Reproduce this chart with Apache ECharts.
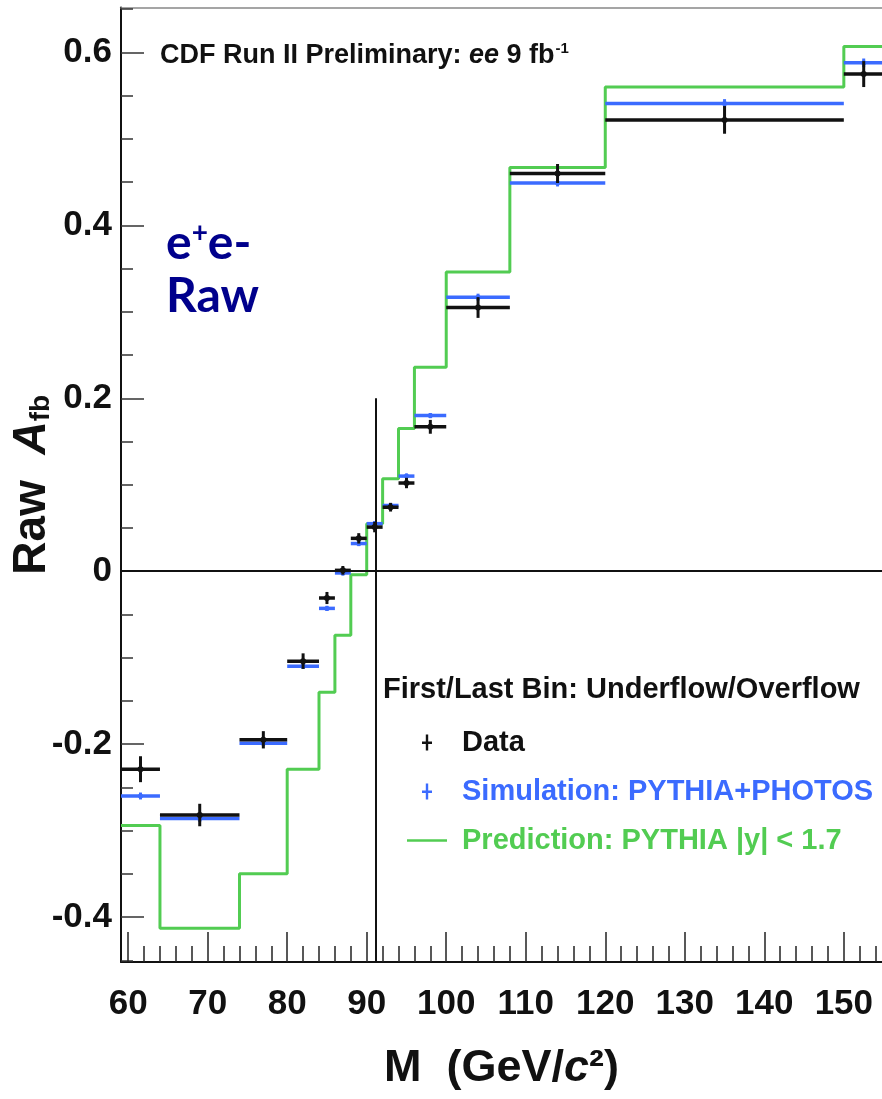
<!DOCTYPE html>
<html>
<head>
<meta charset="utf-8">
<script src="https://cdn.jsdelivr.net/npm/echarts@6/dist/echarts.min.js"></script>
<style>
  html, body { margin: 0; padding: 0; background: #fff; }
  #main { width: 882px; height: 1099px; }
</style>
</head>
<body>
<div id="main"></div>
<script>
// bin edges of the mass histogram (first/last bins = under/overflow, cut at the frame)
var binEdges = [59.1, 64, 74, 80, 84, 86, 88, 90, 92, 94, 96, 100, 108, 120, 150, 155];
var dataValues = [-0.229, -0.282, -0.195, -0.104, -0.031, 0.001, 0.038, 0.051, 0.074, 0.102, 0.167, 0.305, 0.460, 0.522, 0.575];
var dataErrors = [0.015, 0.013, 0.010, 0.009, 0.007, 0.005, 0.006, 0.006, 0.005, 0.006, 0.008, 0.012, 0.011, 0.016, 0.015];
var simValues = [-0.260, -0.286, -0.199, -0.110, -0.043, -0.002, 0.032, 0.055, 0.076, 0.110, 0.180, 0.317, 0.449, 0.541, 0.588];
var simErrors = [0.004, 0.004, 0.003, 0.003, 0.003, 0.003, 0.003, 0.003, 0.003, 0.003, 0.003, 0.004, 0.004, 0.005, 0.005];
var predValues = [-0.294, -0.413, -0.350, -0.229, -0.140, -0.074, -0.004, 0.055, 0.107, 0.165, 0.236, 0.346, 0.467, 0.560, 0.607];

var xMajor = [60, 70, 80, 90, 100, 110, 120, 130, 140, 150];
var xMinor = [62, 64, 66, 68, 72, 74, 76, 78, 82, 84, 86, 88, 92, 94, 96, 98, 102, 104, 106, 108,
              112, 114, 116, 118, 122, 124, 126, 128, 132, 134, 136, 138, 142, 144, 146, 148, 152, 154];
var yMajor = [-0.4, -0.2, 0, 0.2, 0.4, 0.6];
var yMinor = [-0.45, -0.35, -0.3, -0.25, -0.15, -0.1, -0.05, 0.05, 0.1, 0.15, 0.25, 0.3, 0.35, 0.45, 0.5, 0.55, 0.65];
var zMass = 91.19;

var BLACK = '#111';
var BLUE = '#3b6bff';
var GREEN = '#52cc52';
var SANS = "'Liberation Sans', Arial, sans-serif";

function binRows(values, errors) {
    return values.map(function (v, i) {
        return [binEdges[i], binEdges[i + 1], v, errors[i]];
    });
}

var stepData = predValues.map(function (v, i) { return [binEdges[i], v]; });
stepData.push([binEdges[binEdges.length - 1], predValues[predValues.length - 1]]);

function errRenderer(color, hWidth, vWidth, dot) {
    return function (params, api) {
        var lo = api.value(0), hi = api.value(1), v = api.value(2), e = api.value(3);
        var mid = (lo + hi) / 2;
        var a = api.coord([lo, v]), b = api.coord([hi, v]);
        var t = api.coord([mid, v + e]), d = api.coord([mid, v - e]);
        var c = api.coord([mid, v]);
        return {
            type: 'group',
            children: [
                { type: 'line', shape: { x1: a[0], y1: a[1], x2: b[0], y2: b[1] }, style: { stroke: color, lineWidth: hWidth } },
                { type: 'line', shape: { x1: t[0], y1: t[1], x2: d[0], y2: d[1] }, style: { stroke: color, lineWidth: vWidth } },
                { type: 'circle', shape: { cx: c[0], cy: c[1], r: dot }, style: { fill: color } }
            ]
        };
    };
}

var crossIcon = 'path://M0,7H10V9.5H0Z M3.8,0H6.2V16H3.8Z';
var lineIcon = 'path://M0,0H40V2.5H0Z';

var chart = echarts.init(document.getElementById('main'));

chart.setOption({
    animation: false,
    backgroundColor: '#fff',
    title: [{
        left: 155, top: 36,
        text: '{n|CDF Run II Preliminary: }{i|ee}{n| 9 fb}{s|-1}',
        textStyle: {
            rich: {
                n: { fontFamily: SANS, fontSize: 27, fontWeight: 'bold', color: '#111' },
                i: { fontFamily: SANS, fontSize: 27, fontWeight: 'bold', fontStyle: 'italic', color: '#111' },
                s: { fontFamily: SANS, fontSize: 15, fontWeight: 'bold', color: '#111', padding: [0, 0, 14, 1] }
            }
        }
    }, {
        left: 161, top: 212,
        text: '{a|e}{s|+}{a|e-}\n{a|Raw}',
        textStyle: {
            rich: {
                a: { fontFamily: 'Lato, sans-serif', fontSize: 48, fontWeight: 'bold', color: '#00008c', lineHeight: 53 },
                s: { fontFamily: 'Lato, sans-serif', fontSize: 28, fontWeight: 'bold', color: '#00008c', padding: [0, 0, 22, 0] }
            }
        }
    }, {
        left: 378, top: 670,
        text: 'First/Last Bin: Underflow/Overflow',
        textStyle: { fontFamily: SANS, fontSize: 29, fontWeight: 'bold', color: '#111' }
    }],
    legend: {
        orient: 'vertical',
        left: 402, top: 722,
        itemWidth: 40, itemHeight: 16,
        itemGap: 18,
        selectedMode: false,
        textStyle: { fontFamily: SANS, fontSize: 29, fontWeight: 'bold', lineHeight: 31, padding: [0, 0, 0, 10] },
        data: [
            { name: 'Data', icon: crossIcon, itemStyle: { color: BLACK }, textStyle: { color: BLACK } },
            { name: 'Simulation: PYTHIA+PHOTOS', icon: crossIcon, itemStyle: { color: BLUE }, textStyle: { color: BLUE } },
            { name: 'Prediction: PYTHIA |y| < 1.7', icon: lineIcon, itemStyle: { color: GREEN }, textStyle: { color: GREEN } }
        ]
    },
    grid: { left: 121, right: 0, top: 7.5, bottom: 137, containLabel: false, outerBoundsMode: 'none' },
    xAxis: [{
        type: 'value', position: 'bottom', min: 59.1, max: 154.8,
        axisLine: { onZero: false, lineStyle: { color: BLACK, width: 2 } },
        axisTick: { inside: true, length: 30, customValues: xMajor, lineStyle: { color: '#222', width: 1.5 } },
        axisLabel: {
            customValues: xMajor, margin: 25,
            fontFamily: SANS, fontSize: 35, fontWeight: 'bold', color: '#111'
        },
        splitLine: { show: false },
        name: '{n|M  (GeV/}{i|c}{n|²)}',
        nameLocation: 'middle', nameGap: 84,
        nameTextStyle: {
            rich: {
                n: { fontFamily: SANS, fontSize: 45, fontWeight: 'bold', color: '#111' },
                i: { fontFamily: SANS, fontSize: 45, fontWeight: 'bold', fontStyle: 'italic', color: '#111' }
            }
        }
    }, {
        type: 'value', position: 'bottom', min: 59.1, max: 154.8,
        axisLine: { show: false, onZero: false },
        axisTick: { inside: true, length: 16, customValues: xMinor, lineStyle: { color: '#222', width: 1.5 } },
        axisLabel: { show: false },
        splitLine: { show: false }
    }, {
        type: 'value', position: 'top', min: 59.1, max: 154.8,
        axisLine: { onZero: false, lineStyle: { color: '#888', width: 1.5 } },
        axisTick: { show: false },
        axisLabel: { show: false },
        splitLine: { show: false }
    }],
    yAxis: [{
        type: 'value', position: 'left', min: -0.452, max: 0.652,
        axisLine: { onZero: false, lineStyle: { color: BLACK, width: 2 } },
        axisTick: { inside: true, length: 23, customValues: yMajor, lineStyle: { color: '#333', width: 1.5 } },
        axisLabel: {
            customValues: yMajor, margin: 9,
            fontFamily: SANS, fontSize: 35, fontWeight: 'bold', color: '#111',
            formatter: function (v) { return Math.abs(v) < 1e-9 ? '0' : v.toFixed(1); }
        },
        splitLine: { show: false },
        name: '{r|Raw  }{a|A}{s|fb}',
        nameLocation: 'middle', nameRotate: 90, nameGap: 66,
        nameMoveOverlap: false,
        nameTextStyle: {
            rich: {
                r: { fontFamily: SANS, fontSize: 46, fontWeight: 'bold', color: '#111' },
                a: { fontFamily: SANS, fontSize: 46, fontWeight: 'bold', fontStyle: 'italic', color: '#111' },
                s: { fontFamily: SANS, fontSize: 28, fontWeight: 'bold', color: '#111', padding: [18, 0, 0, 0] }
            }
        }
    }, {
        type: 'value', position: 'left', min: -0.452, max: 0.652,
        axisLine: { show: false, onZero: false },
        axisTick: { inside: true, length: 12, customValues: yMinor, lineStyle: { color: '#333', width: 1.5 } },
        axisLabel: { show: false },
        splitLine: { show: false }
    }],
    series: [{
        name: 'Prediction: PYTHIA |y| < 1.7',
        type: 'line',
        step: 'end',
        data: stepData,
        showSymbol: false,
        lineStyle: { color: GREEN, width: 3 },
        itemStyle: { color: GREEN },
        z: 2,
        markLine: {
            silent: true,
            symbol: 'none',
            label: { show: false },
            lineStyle: { color: BLACK, width: 2, type: 'solid' },
            data: [
                { yAxis: 0 },
                [{ coord: [zMass, 0.2] }, { coord: [zMass, -0.452] }]
            ]
        }
    }, {
        name: 'Simulation: PYTHIA+PHOTOS',
        type: 'custom',
        data: binRows(simValues, simErrors),
        encode: { x: [0, 1], y: 2 },
        renderItem: errRenderer(BLUE, 3.5, 3, 2.5),
        itemStyle: { color: BLUE },
        z: 3
    }, {
        name: 'Data',
        type: 'custom',
        data: binRows(dataValues, dataErrors),
        encode: { x: [0, 1], y: 2 },
        renderItem: errRenderer(BLACK, 3.5, 3, 3),
        itemStyle: { color: BLACK },
        z: 4
    }]
});

window.onresize = chart.resize;
</script>
</body>
</html>
